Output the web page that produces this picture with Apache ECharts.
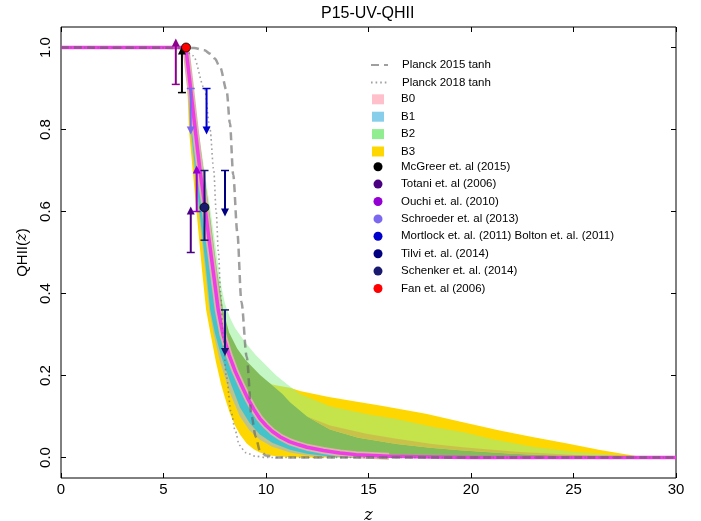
<!DOCTYPE html>
<html>
<head>
<meta charset="utf-8">
<script src="https://cdn.jsdelivr.net/npm/echarts@6.0.0/dist/echarts.min.js"></script>
<style>
  html, body { margin: 0; padding: 0; background: #fff; }
  #chart { width: 701px; height: 521px; }
</style>
</head>
<body>
<div id="chart"></div>
<script>
// ---- ticks ----
var xTicks = [0, 5, 10, 15, 20, 25, 30];
var yTicks = [0, 0.2, 0.4, 0.6, 0.8, 1.0];

// ---- Planck tanh curves [z, QHII] ----
var planck15 = [[0, 1], [6.5, 0.999], [7.0, 0.993], [7.27, 0.985], [7.5, 0.973], [7.76, 0.952], [8.08, 0.895],
  [8.24, 0.815], [8.4, 0.69], [8.6, 0.55], [8.8, 0.38], [9.06, 0.245], [9.3, 0.1], [9.5, 0.05], [9.7, 0.017],
  [10, 0.005], [10.5, 0], [30, 0]];
var planck18 = [[0, 1], [5.5, 0.999], [6.0, 0.995], [6.45, 0.98], [7.0, 0.9], [7.27, 0.8], [7.45, 0.7],
  [7.57, 0.6], [7.68, 0.5], [7.79, 0.4], [7.9, 0.3], [8.06, 0.2], [8.3, 0.11], [8.5, 0.065], [8.7, 0.03],
  [9.0, 0.012], [9.5, 0.003], [10, 0], [30, 0]];

// ---- model median (magenta) ----
var median = [[0, 1], [6.0, 1], [6.1, 0.995], [6.3, 0.91], [6.5, 0.82], [6.78, 0.7], [7.0, 0.62], [7.2, 0.54],
  [7.42, 0.456], [7.67, 0.36], [7.9, 0.3], [8.2, 0.25], [8.5, 0.21], [8.8, 0.177], [9.1, 0.145], [9.4, 0.118],
  [9.7, 0.095], [10.0, 0.078], [10.3, 0.064], [10.7, 0.05], [11.17, 0.038], [11.6, 0.031], [12, 0.025],
  [12.8, 0.017], [13.6, 0.011], [14.4, 0.007], [16, 0.003], [18, 0.001], [20, 0], [30, 0]];

// ---- band edges [z, QHII] ----
var b3Low = [[6.0, 1], [6.1, 0.99], [6.24, 0.8], [6.61, 0.6], [6.88, 0.456], [7.08, 0.36], [7.3, 0.3], [7.55, 0.235],
  [7.8, 0.18], [8.0, 0.145], [8.24, 0.108], [8.5, 0.077], [8.73, 0.056], [9.06, 0.034], [9.4, 0.02], [9.7, 0.012],
  [10.3, 0.004], [11, 0.001], [12, 0], [30, 0]];
var b3High = [[6.0, 1], [6.1, 0.995], [6.63, 0.8], [7.2, 0.6], [7.57, 0.456], [7.86, 0.36], [8.2, 0.295], [8.6, 0.255],
  [9.0, 0.23], [9.7, 0.195], [10.3, 0.178], [10.8, 0.173], [11.17, 0.17], [11.66, 0.162], [13, 0.148], [14.3, 0.137],
  [15.56, 0.127], [17.8, 0.107], [19.5, 0.087], [21.4, 0.066], [23, 0.05], [24.7, 0.034], [26.3, 0.018],
  [27.9, 0.005], [28.5, 0], [30, 0]];
var b2High = [[6.0, 1], [6.1, 0.995], [6.7, 0.8], [7.3, 0.6], [7.7, 0.456], [7.85, 0.41], [8.0, 0.375], [8.25, 0.34],
  [8.5, 0.315], [9.0, 0.28], [9.5, 0.25], [10.0, 0.225], [10.5, 0.2], [11.0, 0.18], [11.66, 0.155], [13.12, 0.125],
  [15, 0.105], [16.37, 0.094], [18.1, 0.075], [19.6, 0.062], [21, 0.045], [23, 0.026], [25, 0.014], [27.1, 0.006],
  [28.5, 0.001], [29.5, 0], [30, 0]];
var darkHigh = [[6.0, 1], [6.1, 0.995], [6.68, 0.8], [7.24, 0.6], [7.61, 0.456], [7.91, 0.36], [8.2, 0.305], [8.6, 0.265],
  [9.0, 0.238], [9.7, 0.202], [10.3, 0.176], [10.8, 0.155], [11.17, 0.135], [12, 0.1], [13.12, 0.068], [14.5, 0.048],
  [16.37, 0.033], [18, 0.024], [19.6, 0.017], [22, 0.009], [25, 0.003], [27, 0], [30, 0]];
var oliveHigh = [[12, 0.1], [13.12, 0.078], [14.9, 0.058], [16.37, 0.046], [18.1, 0.033], [19.6, 0.025],
  [22.2, 0.014], [25.5, 0.005], [27, 0.001], [28, 0], [30, 0]];
var b1Low = [[6.0, 1], [6.1, 0.99], [6.34, 0.8], [6.76, 0.6], [7.08, 0.456], [7.28, 0.36], [7.5, 0.305], [7.8, 0.25],
  [8.0, 0.22], [8.3, 0.178], [8.73, 0.122], [9.2, 0.084], [9.7, 0.056], [10.3, 0.036], [11.17, 0.019], [12, 0.009],
  [13, 0.003], [14, 0], [30, 0]];
var beigeLow = [[6.0, 1], [6.1, 0.99], [6.29, 0.8], [6.71, 0.6], [7.03, 0.456], [7.23, 0.36], [7.45, 0.3], [7.75, 0.235],
  [8.0, 0.195], [8.3, 0.15], [8.73, 0.1], [9.2, 0.066], [9.7, 0.043], [10.3, 0.026], [11.17, 0.012], [12, 0.005],
  [13, 0.001], [14, 0], [30, 0]];

// ---- observations ----
var mcgreerLims = [[5.9, 0.89]];
var mcgreerLims2 = [[5.6, 0.91]];
var totaniLims = [[6.33, 0.5]];
var ouchiLims = [[6.62, 0.6]];
var schroederLims = [[6.33, 0.9]];
var mortlockLims = [[7.1, 0.9]];
var tilviLims = [[8.0, 0.7]];
var schenkerLims = [[8.0, 0.36]];
var schenkerPts = [[7.0, 0.61, 0.53, 0.70]];
var fanPts = [[6.1, 1.0]];

var ARROW = 0.1;
var FONT = "'Liberation Sans', sans-serif";
var NARROW = "'Liberation Sans Narrow', 'Liberation Sans', sans-serif";
var NONE = 'rgba(0,0,0,0)';

var chart = echarts.init(document.getElementById('chart'));

function bandSeries(name, lower, upper, fill, z) {
  return {
    type: 'custom', name: name, z: z, silent: true,
    data: [upper[0]],
    encode: { x: 0, y: 1 },
    itemStyle: { color: fill },
    renderItem: function (params, api) {
      var pts = [];
      upper.forEach(function (p) { pts.push(api.coord(p)); });
      lower.slice().reverse().forEach(function (p) { pts.push(api.coord(p)); });
      return { type: 'polygon', shape: { points: pts }, style: { fill: fill } };
    }
  };
}

function limitSeries(name, pts, dir, color) {
  return {
    type: 'custom', name: name, z: 20, silent: true,
    data: pts, encode: { x: 0, y: 1 },
    itemStyle: { color: color },
    renderItem: function (params, api) {
      var a = api.coord([api.value(0), api.value(1)]);
      var b = api.coord([api.value(0), api.value(1) + dir * ARROW]);
      var s = dir > 0 ? 1 : -1;
      return {
        type: 'group', children: [
          { type: 'line', shape: { x1: a[0] - 4, y1: a[1], x2: a[0] + 4, y2: a[1] }, style: { stroke: color, lineWidth: 1.5 } },
          { type: 'line', shape: { x1: a[0], y1: a[1], x2: b[0], y2: b[1] }, style: { stroke: color, lineWidth: 2 } },
          { type: 'polygon', shape: { points: [[b[0], b[1] - 5 * s], [b[0] - 4, b[1] + 3 * s], [b[0] + 4, b[1] + 3 * s]] },
            style: { fill: color } }
        ]
      };
    }
  };
}

function pointSeries(name, pts, color) {
  return {
    type: 'custom', name: name, z: 21, silent: true,
    data: pts, encode: { x: 0, y: 1 },
    itemStyle: { color: color },
    renderItem: function (params, api) {
      var c = api.coord([api.value(0), api.value(1)]);
      var kids = [];
      if (pts[params.dataIndex].length > 2) {
        var lo = api.coord([api.value(0), api.value(2)]);
        var hi = api.coord([api.value(0), api.value(3)]);
        kids.push({ type: 'line', shape: { x1: c[0], y1: lo[1], x2: c[0], y2: hi[1] }, style: { stroke: color, lineWidth: 2 } });
        kids.push({ type: 'line', shape: { x1: c[0] - 4, y1: lo[1], x2: c[0] + 4, y2: lo[1] }, style: { stroke: color, lineWidth: 1.5 } });
        kids.push({ type: 'line', shape: { x1: c[0] - 4, y1: hi[1], x2: c[0] + 4, y2: hi[1] }, style: { stroke: color, lineWidth: 1.5 } });
      }
      kids.push({ type: 'circle', shape: { cx: c[0], cy: c[1], r: 4.5 }, style: { fill: color, stroke: '#000', lineWidth: 0.8 } });
      return { type: 'group', children: kids };
    }
  };
}

var legendText = { color: '#000', fontSize: 11.5, fontFamily: FONT, lineHeight: 14 };

var option = {
  animation: false,
  backgroundColor: '#fff',
  title: {
    text: 'P15-UV-QHII', left: 321, top: 6, padding: 0,
    textStyle: { color: '#000', fontSize: 16, fontWeight: 'normal', fontFamily: FONT }
  },
  grid: {
    left: 61, right: 25, top: 27, bottom: 43, outerBoundsMode: 'none', containLabel: false,
    show: true, borderColor: '#000', borderWidth: 1
  },
  legend: [
    {
      orient: 'vertical', left: 370, top: 58, padding: 0, itemWidth: 17, itemHeight: 10, itemGap: 3.4,
      selectedMode: false, textStyle: Object.assign({ padding: [0, 0, 0, 9] }, legendText),
      itemStyle: { color: NONE, borderColor: NONE, borderWidth: 0 },
      data: [{ name: 'Planck 2015 tanh' }, { name: 'Planck 2018 tanh' }]
    },
    {
      orient: 'vertical', left: 372, top: 92.3, padding: 0, itemWidth: 12, itemHeight: 10, itemGap: 3.4,
      selectedMode: false, textStyle: Object.assign({ padding: [0, 0, 0, 12] }, legendText),
      data: [
        { name: 'B0', icon: 'rect', itemStyle: { color: '#FFC0CB' } },
        { name: 'B1', icon: 'rect', itemStyle: { color: '#87CEEB' } },
        { name: 'B2', icon: 'rect', itemStyle: { color: '#90EE90' } },
        { name: 'B3', icon: 'rect', itemStyle: { color: '#FFD700' } }
      ]
    },
    {
      orient: 'vertical', left: 373.5, top: 159.7, padding: 0, itemWidth: 9, itemHeight: 9, itemGap: 3.4,
      selectedMode: false, textStyle: Object.assign({ padding: [0, 0, 0, 13.5] }, legendText),
      data: [
        { name: 'McGreer et. al (2015)', icon: 'circle', itemStyle: { color: '#000000' } },
        { name: 'Totani et. al (2006)', icon: 'circle', itemStyle: { color: '#4B0082' } },
        { name: 'Ouchi et. al. (2010)', icon: 'circle', itemStyle: { color: '#9400D3' } },
        { name: 'Schroeder et. al (2013)', icon: 'circle', itemStyle: { color: '#7B68EE' } },
        { name: 'Mortlock et. al. (2011) Bolton et. al. (2011)', icon: 'circle', itemStyle: { color: '#0000CD' } },
        { name: 'Tilvi et. al. (2014)', icon: 'circle', itemStyle: { color: '#000080' } },
        { name: 'Schenker et. al. (2014)', icon: 'circle', itemStyle: { color: '#191970' } },
        { name: 'Fan et. al (2006)', icon: 'circle', itemStyle: { color: '#FF0000' } }
      ]
    }
  ],
  xAxis: [
    {
      type: 'value', min: 0, max: 30, interval: 5, position: 'bottom',
      axisLine: { show: false, onZero: false }, splitLine: { show: false },
      axisTick: { inside: true, length: 5, lineStyle: { color: '#000' } },
      axisLabel: { color: '#000', fontSize: 15, fontFamily: NARROW, margin: 4, customValues: xTicks },
      name: 'z', nameLocation: 'middle', nameGap: 30,
      nameTextStyle: { color: '#000', fontSize: 16, fontStyle: 'italic', fontFamily: "'DejaVu Serif', serif" }
    },
    {
      type: 'value', min: 0, max: 30, interval: 5, position: 'top',
      axisLine: { show: false, onZero: false }, splitLine: { show: false },
      axisTick: { inside: true, length: 5, lineStyle: { color: '#000' } },
      axisLabel: { show: false }
    }
  ],
  yAxis: [
    {
      type: 'value', min: -0.05, max: 1.05, position: 'left',
      axisLine: { show: false, onZero: false }, splitLine: { show: false },
      axisTick: { inside: true, length: 5, lineStyle: { color: '#000' }, customValues: yTicks },
      axisLabel: {
        color: '#000', fontSize: 15, fontFamily: NARROW, margin: 8, rotate: 90, customValues: yTicks,
        formatter: function (v) { return v.toFixed(1); }
      },
      name: 'QHII({i|z})', nameLocation: 'middle', nameGap: 30,
      nameTextStyle: {
        color: '#000', fontSize: 15, fontFamily: FONT,
        rich: { i: { fontSize: 15, fontStyle: 'italic', fontFamily: "'DejaVu Serif', serif", color: '#000' } }
      }
    },
    {
      type: 'value', min: -0.05, max: 1.05, position: 'right',
      axisLine: { show: false, onZero: false }, splitLine: { show: false },
      axisTick: { inside: true, length: 5, lineStyle: { color: '#000' }, customValues: yTicks },
      axisLabel: { show: false }
    }
  ],
  series: [
    bandSeries('B3', b3Low, b3High, '#FFD700', 2),
    bandSeries('beige', beigeLow, median, '#BDC38C', 3),
    bandSeries('B1', b1Low, median, '#45C3CB', 4),
    bandSeries('B2', median, b2High, 'rgba(144,238,144,0.52)', 5),
    bandSeries('dark', median, darkHigh, '#83BC5A', 6),
    bandSeries('olive', darkHigh.filter(function (p) { return p[0] >= 12; }), oliveHigh, '#C9C24A', 7),
    {
      type: 'line', name: 'B0', z: 8, silent: true, showSymbol: false, symbol: 'none',
      data: median.filter(function (p) { return p[0] >= 6.05 && p[0] <= 16; }),
      lineStyle: { color: '#D9B4A8', width: 7, join: 'round' }, itemStyle: { color: '#FFC0CB' }
    },
    {
      type: 'line', name: 'median', z: 9, silent: true, showSymbol: false, symbol: 'none',
      data: median, lineStyle: { color: '#EE3DE6', width: 3.5, join: 'round' }
    },
    {
      type: 'line', name: 'Planck 2015 tanh', z: 10, silent: true, showSymbol: false, symbol: 'none',
      data: planck15, smooth: 0.3, smoothMonotone: 'x',
      lineStyle: { color: 'rgba(95,95,95,0.6)', width: 2.5, type: [8, 5] },
      itemStyle: { color: NONE }
    },
    {
      type: 'line', name: 'Planck 2018 tanh', z: 11, silent: true, showSymbol: false, symbol: 'none',
      data: planck18, smooth: 0.3, smoothMonotone: 'x',
      lineStyle: { color: 'rgba(110,110,110,0.65)', width: 1.6, type: [1.6, 3] },
      itemStyle: { color: NONE }
    },
    limitSeries('McGreer et. al (2015)', mcgreerLims, 1, '#000000'),
    limitSeries('McGreer z5.6', mcgreerLims2, 1, '#8B008B'),
    limitSeries('Totani et. al (2006)', totaniLims, 1, '#4B0082'),
    limitSeries('Ouchi et. al. (2010)', ouchiLims, 1, '#9400D3'),
    limitSeries('Schroeder et. al (2013)', schroederLims, -1, '#7B68EE'),
    limitSeries('Mortlock et. al. (2011) Bolton et. al. (2011)', mortlockLims, -1, '#0000CD'),
    limitSeries('Tilvi et. al. (2014)', tilviLims, -1, '#000080'),
    pointSeries('Schenker et. al. (2014)', schenkerPts, '#191970'),
    limitSeries('Schenker et. al. (2014)', schenkerLims, -1, '#191970'),
    pointSeries('Fan et. al (2006)', fanPts, '#FF0000')
  ]
};

chart.setOption(option);
</script>
</body>
</html>
